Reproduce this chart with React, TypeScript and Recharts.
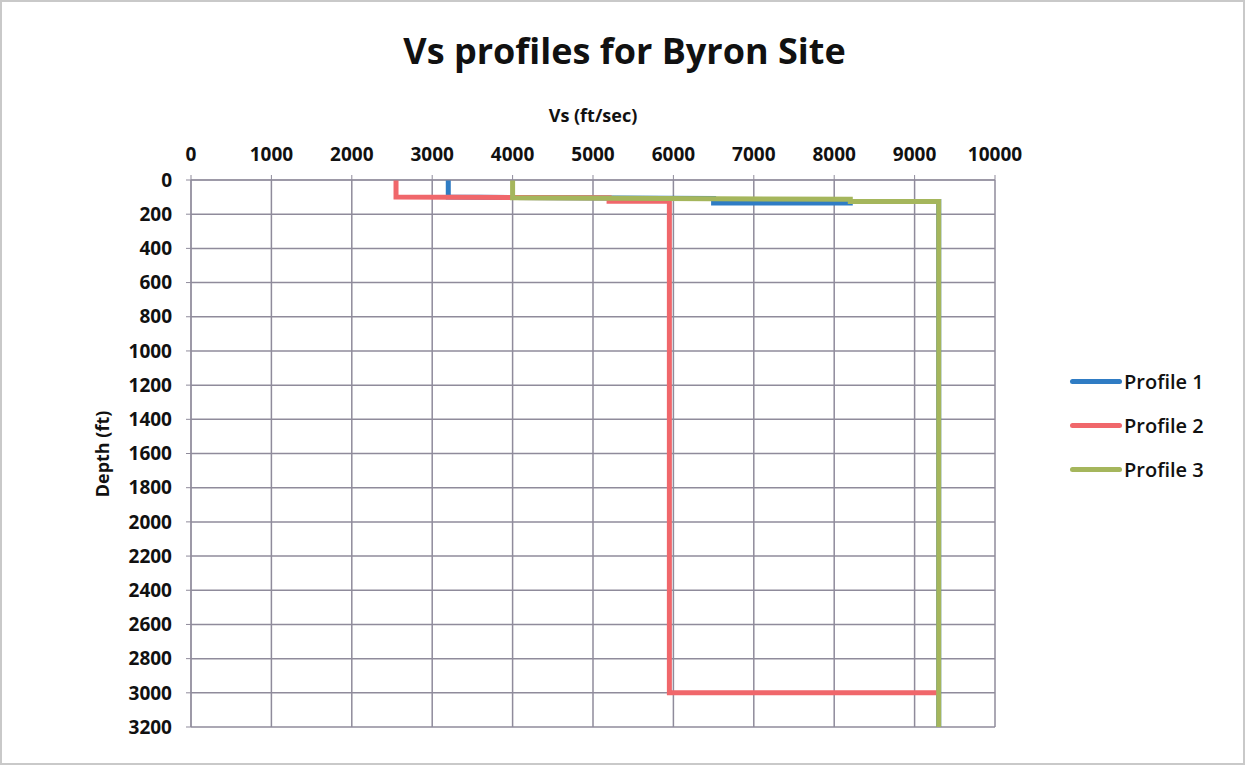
import React from "react";
import { CartesianGrid, Line, LineChart, XAxis, YAxis } from "recharts";

// Vs (ft/sec) vs depth (ft) step profiles
const profile1 = [
  { vs: 3200, depth: 0 },
  { vs: 3200, depth: 100 },
  { vs: 4000, depth: 102 },
  { vs: 6500, depth: 108 },
  { vs: 6500, depth: 134 },
  { vs: 8200, depth: 134 },
  { vs: 8200, depth: 126 },
  { vs: 9300, depth: 126 },
  { vs: 9300, depth: 3200 },
];
const profile2 = [
  { vs: 2550, depth: 0 },
  { vs: 2550, depth: 100 },
  { vs: 5200, depth: 104 },
  { vs: 5200, depth: 125 },
  { vs: 5950, depth: 125 },
  { vs: 5950, depth: 3000 },
  { vs: 9300, depth: 3000 },
];
const profile3 = [
  { vs: 4000, depth: 0 },
  { vs: 4000, depth: 104 },
  { vs: 6500, depth: 110 },
  { vs: 8200, depth: 113 },
  { vs: 8200, depth: 126 },
  { vs: 9300, depth: 126 },
  { vs: 9300, depth: 3200 },
];

const xTicks = [0, 1000, 2000, 3000, 4000, 5000, 6000, 7000, 8000, 9000, 10000];
const yTicks = [0, 200, 400, 600, 800, 1000, 1200, 1400, 1600, 1800, 2000, 2200, 2400, 2600, 2800, 3000, 3200];

const series = [
  { name: "Profile 1", data: profile1, color: "#2f7cc4" },
  { name: "Profile 2", data: profile2, color: "#f0676b" },
  { name: "Profile 3", data: profile3, color: "#a5b65c" },
];

const FONT = "'Open Sans', sans-serif";
const GRID = "#8f8b9b";

export default function App() {
  return (
    <div style={{ position: "relative", width: 1245, height: 765, boxSizing: "border-box", border: "2px solid #c9c9c9", background: "#fff" }}>
      <style>{"body{margin:0}"}</style>
      <div style={{ position: "absolute", left: 0, width: 1245, top: 24, textAlign: "center", fontFamily: FONT, fontWeight: 700, fontSize: 36, color: "#111" }}>
        Vs profiles for Byron Site
      </div>
      <div style={{ position: "absolute", left: 1068, top: 357, fontFamily: FONT, fontSize: 20, fontWeight: 600, color: "#111" }}>
        {series.map((s) => (
          <div key={s.name} style={{ display: "flex", alignItems: "center", height: 44 }}>
            <span style={{ display: "inline-block", width: 52, height: 5, borderRadius: 3, background: s.color, marginRight: 2 }} />
            {s.name}
          </div>
        ))}
      </div>
      <LineChart width={1241} height={761} margin={{ top: 138, right: 248, bottom: 36, left: 129 }}>
        <CartesianGrid stroke={GRID} strokeWidth={1.5} />
        <XAxis
          type="number"
          dataKey="vs"
          orientation="top"
          domain={[0, 10000]}
          ticks={xTicks}
          height={40}
          stroke={GRID}
          tickSize={5}
          tickMargin={14}
          tick={{ fill: "#111", fontFamily: FONT, fontWeight: 700, fontSize: 19 }}
          label={{ value: "Vs (ft/sec)", position: "top", offset: 18, fill: "#111", fontFamily: FONT, fontWeight: 700, fontSize: 18 }}
          allowDuplicatedCategory={false}
        />
        <YAxis
          type="number"
          dataKey="depth"
          reversed
          domain={[0, 3200]}
          ticks={yTicks}
          width={60}
          stroke={GRID}
          tickSize={5}
          tickMargin={14}
          tick={{ fill: "#111", fontFamily: FONT, fontWeight: 700, fontSize: 19 }}
          label={{
            content: () => (
              <text x={100} y={452} transform="rotate(-90 100 452)" textAnchor="middle" dominantBaseline="central" fill="#111" fontFamily={FONT} fontWeight={700} fontSize={18}>
                Depth (ft)
              </text>
            ),
          }}
        />
        {series.map((s) => (
          <Line
            key={s.name}
            name={s.name}
            data={s.data}
            dataKey="depth"
            type="linear"
            stroke={s.color}
            strokeWidth={5}
            dot={false}
            activeDot={false}
            isAnimationActive={false}
          />
        ))}
      </LineChart>
    </div>
  );
}
